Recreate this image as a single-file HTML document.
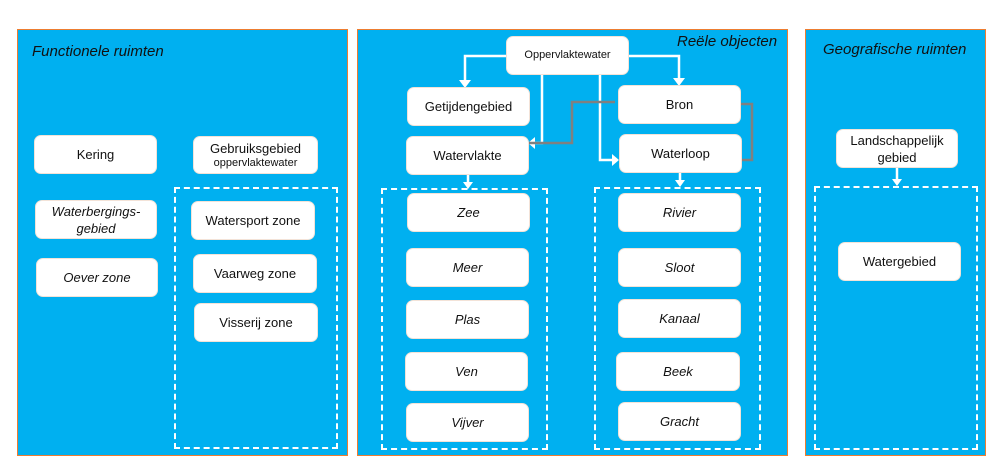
<!DOCTYPE html>
<html><head><meta charset="utf-8"><style>
body{margin:0;width:994px;height:476px;background:#fff;position:relative;overflow:hidden;font-family:"Liberation Sans",sans-serif;}
.p{position:absolute;background:#00B0F0;border:1px solid #ED7D31;box-sizing:border-box;}
.t{position:absolute;font-style:italic;font-size:15px;color:#111;}
.b{position:absolute;background:#fff;border-radius:7px;display:flex;align-items:center;justify-content:center;text-align:center;font-size:13px;color:#111;line-height:17px;box-sizing:border-box;border:1px solid #f3e3d8;}
.i{font-style:italic;}
.d{position:absolute;border:2px dashed #fff;box-sizing:border-box;}
</style></head><body>
<div class="p" style="left:17px;top:29px;width:331px;height:427px"></div>
<div class="p" style="left:357px;top:29px;width:431px;height:427px"></div>
<div class="p" style="left:805px;top:29px;width:181px;height:427px"></div>
<div class="t" style="left:32px;top:43px">Functionele ruimten</div>
<div class="t" style="left:677px;top:33px">Reële objecten</div>
<div class="t" style="left:823px;top:41px">Geografische ruimten</div>

<div class="d" style="left:174px;top:187px;width:164px;height:262px"></div>
<div class="d" style="left:381px;top:188px;width:167px;height:262px"></div>
<div class="d" style="left:594px;top:187px;width:167px;height:263px"></div>
<div class="d" style="left:814px;top:186px;width:164px;height:264px"></div>

<svg style="position:absolute;left:0;top:0" width="994" height="476">
<g fill="none" stroke="#fff" stroke-width="2.5">
<path d="M506 56H465V82"/><path d="M629 56H679V80"/>
<path d="M542 75V143H534"/><path d="M600 75V160H613"/>
<path d="M468 175V184"/><path d="M680 173V182"/><path d="M897 168V181"/>
</g>
<g fill="#fff">
<path d="M459 80H471L465 88Z"/><path d="M673 78H685L679 86Z"/>
<path d="M535 137V149L528 143Z"/><path d="M612 154V166L619 160Z"/>
<path d="M463 182H473L468 189Z"/><path d="M675 180H685L680 187Z"/><path d="M892 179H902L897 186Z"/>
</g>
<g fill="none" stroke="#808080" stroke-width="2.5">
<path d="M529 143H572V102H615"/><path d="M741 104H752V160H742"/>
</g>
</svg>

<div class="b" style="left:34px;top:135px;width:123px;height:39px">Kering</div>
<div class="b i" style="left:35px;top:200px;width:122px;height:39px">Waterbergings-<br>gebied</div>
<div class="b i" style="left:36px;top:258px;width:122px;height:39px">Oever zone</div>
<div class="b" style="left:193px;top:136px;width:125px;height:38px;flex-direction:column">Gebruiksgebied<span style="font-size:11px;line-height:13px">oppervlaktewater</span></div>
<div class="b" style="left:191px;top:201px;width:124px;height:39px">Watersport zone</div>
<div class="b" style="left:193px;top:254px;width:124px;height:39px">Vaarweg zone</div>
<div class="b" style="left:194px;top:303px;width:124px;height:39px">Visserij zone</div>

<div class="b" style="left:506px;top:36px;width:123px;height:39px;font-size:11px">Oppervlaktewater</div>
<div class="b" style="left:407px;top:87px;width:123px;height:39px">Getijdengebied</div>
<div class="b" style="left:406px;top:136px;width:123px;height:39px">Watervlakte</div>
<div class="b i" style="left:407px;top:193px;width:123px;height:39px">Zee</div>
<div class="b i" style="left:406px;top:248px;width:123px;height:39px">Meer</div>
<div class="b i" style="left:406px;top:300px;width:123px;height:39px">Plas</div>
<div class="b i" style="left:405px;top:352px;width:123px;height:39px">Ven</div>
<div class="b i" style="left:406px;top:403px;width:123px;height:39px">Vijver</div>

<div class="b" style="left:618px;top:85px;width:123px;height:39px">Bron</div>
<div class="b" style="left:619px;top:134px;width:123px;height:39px">Waterloop</div>
<div class="b i" style="left:618px;top:193px;width:123px;height:39px">Rivier</div>
<div class="b i" style="left:618px;top:248px;width:123px;height:39px">Sloot</div>
<div class="b i" style="left:618px;top:299px;width:123px;height:39px">Kanaal</div>
<div class="b i" style="left:616px;top:352px;width:124px;height:39px">Beek</div>
<div class="b i" style="left:618px;top:402px;width:123px;height:39px">Gracht</div>

<div class="b" style="left:836px;top:129px;width:122px;height:39px">Landschappelijk<br>gebied</div>
<div class="b" style="left:838px;top:242px;width:123px;height:39px">Watergebied</div>
</body></html>
